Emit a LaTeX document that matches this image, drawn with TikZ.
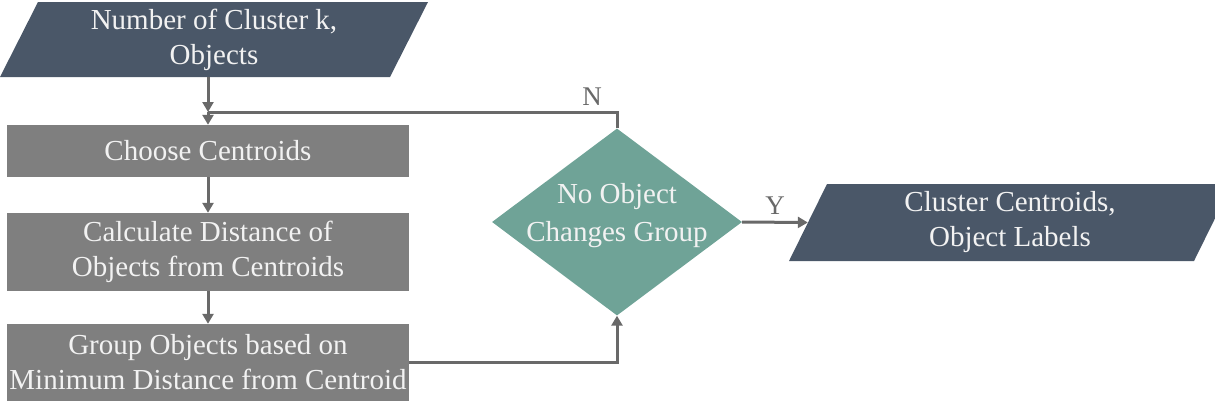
\documentclass[tikz,border=0pt]{standalone}
\usepackage{fontspec}
\setmainfont{Liberation Serif}
\usetikzlibrary{arrows.meta,shapes.geometric}
\definecolor{slate}{RGB}{74,87,104}
\definecolor{boxgray}{RGB}{127,127,127}
\definecolor{tealfill}{RGB}{111,163,151}
\definecolor{linegray}{RGB}{105,105,105}
\definecolor{txt}{RGB}{242,242,242}
\begin{document}
\begin{tikzpicture}[x=1pt,y=-1pt,
  every node/.style={font=\fontsize{29}{35}\selectfont, align=center, inner sep=0pt},
  procbox/.style={fill=boxgray, text=txt, minimum width=402pt},
  iobox/.style={text=txt},
  conn/.style={draw=linegray, line width=3pt},
  arr/.style={conn, -{Triangle[length=10pt,width=11pt]}},
  lbl/.style={text=linegray, font=\fontsize{27}{32}\selectfont}]
\useasboundingbox (0,0) rectangle (1215,402);
\clip (0,0) rectangle (1215,402);
% input
\fill[slate] (38,2) -- (428,2) -- (390,77) -- (0,77) -- cycle;
\node[iobox, minimum width=390pt, minimum height=75pt] (in) at (214,39.5) {Number of Cluster k,\\Objects};
% process boxes
\node[procbox, minimum height=52pt] (choose) at (208,151) {Choose Centroids};
\node[procbox, minimum height=78pt] (calc) at (208,252) {Calculate Distance of\\Objects from Centroids};
\node[procbox, minimum height=77pt] (group) at (208,362.5) {Group Objects based on\\Minimum Distance from Centroid};
% decision
\node[diamond, fill=tealfill, minimum width=250pt, minimum height=187pt, inner sep=0pt,
  label={[text=txt, yshift=6pt, font=\fontsize{29}{38}\selectfont]center:No Object\\Changes Group}] (dia) at (617,222) {};
% output
\fill[slate] (827,184) -- (1232,184) -- (1194,261) -- (789,261) -- cycle;
\node[iobox, minimum width=404pt, minimum height=77pt] (out) at (1010,222.5) {Cluster Centroids,\\Object Labels};
% connectors
\coordinate (jn) at (208,112);
\draw[arr] (in.south -| jn) -- (jn);
\draw[arr] (jn) -- (choose.north);
\draw[arr] (choose) -- (calc);
\draw[arr] (calc) -- (group);
\draw[arr] (group.east) -| (dia.south);
\draw[conn] (dia.north) |- (jn);
\draw[arr] (dia.east) -- node[lbl, above=6pt] (ylab) {Y} (out.west);
\node[lbl] (nlab) at (592,97) {N};
\end{tikzpicture}
\end{document}
